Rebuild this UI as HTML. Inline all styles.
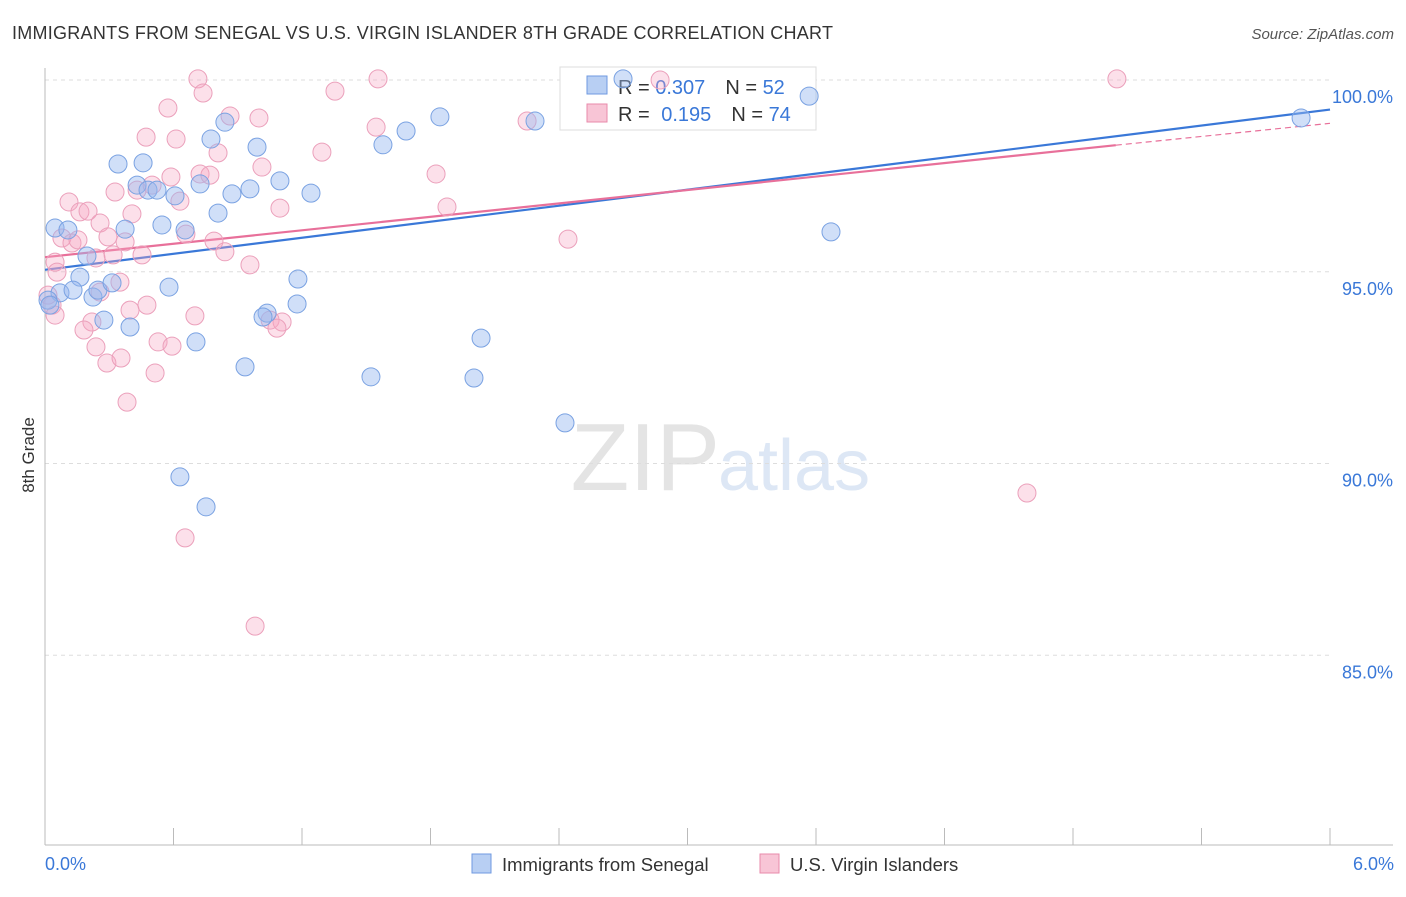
<!DOCTYPE html>
<html><head><meta charset="utf-8"><style>
body{margin:0;background:#fff;font-family:"Liberation Sans",sans-serif}
svg text{font-family:"Liberation Sans",sans-serif}
</style></head><body>
<svg id="chart" width="1406" height="892" xmlns="http://www.w3.org/2000/svg">
<text x="12" y="39" font-size="18" fill="#333" textLength="821">IMMIGRANTS FROM SENEGAL VS U.S. VIRGIN ISLANDER 8TH GRADE CORRELATION CHART</text>
<text x="1394" y="39" font-size="15" fill="#555" font-style="italic" text-anchor="end">Source: ZipAtlas.com</text>
<text x="720" y="490" font-size="96" fill="#e4e4e4" font-family="Liberation Serif" text-anchor="end">ZIP</text>
<text x="718" y="490" font-size="72" fill="#dde7f5">atlas</text>
<g id="grid"></g>
<g id="axes"></g>
<g>
<rect x="560" y="67" width="256" height="63" fill="#fff" stroke="#ddd"/>
<rect x="587" y="76" width="20" height="18" fill="#b8cff3" stroke="#6f9ae0"/>
<rect x="587" y="104" width="20" height="18" fill="#f8c5d6" stroke="#e88aab"/>
<text x="618" y="94" font-size="20" fill="#333">R = <tspan fill="#3a78d8">0.307</tspan><tspan dx="20">N = </tspan><tspan fill="#3a78d8">52</tspan></text>
<text x="618" y="121" font-size="20" fill="#333">R = <tspan dx="6" fill="#3a78d8">0.195</tspan><tspan dx="20">N = </tspan><tspan fill="#3a78d8">74</tspan></text>
</g>
<g id="lines"></g>
<g id="points"></g>
<text transform="translate(34,455) rotate(-90)" font-size="17" fill="#333" text-anchor="middle">8th Grade</text>
<text x="45" y="870" font-size="18" fill="#3a78d8">0.0%</text>
<text x="1394" y="870" font-size="18" fill="#3a78d8" text-anchor="end">6.0%</text>
<g><rect x="472" y="854" width="19" height="19" fill="#b8cff3" stroke="#6f9ae0"/><text x="502" y="871" font-size="18.5" fill="#333">Immigrants from Senegal</text></g>
<g><rect x="760" y="854" width="19" height="19" fill="#f8c5d6" stroke="#e88aab"/><text x="790" y="871" font-size="18.5" fill="#333">U.S. Virgin Islanders</text></g>
</svg>
<script>
const yTicks=[100,95,90,85];
const yTickLabels=["100.0%","95.0%","90.0%","85.0%"];
const xTicks=[0,0.6,1.2,1.8,2.4,3.0,3.6,4.2,4.8,5.4,6.0];
const blueX=[0.047,0.107,0.196,0.163,0.070,0.131,0.224,0.247,0.313,0.275,0.397,0.341,0.458,0.430,0.481,0.523,0.374,0.546,0.607,0.654,0.724,0.775,0.840,0.808,0.873,0.957,0.990,1.097,1.242,1.181,1.177,1.037,1.018,0.705,0.579,0.934,0.630,0.752,1.578,1.686,1.844,2.288,2.036,1.522,2.003,2.428,2.699,3.568,3.670,5.865,0.014,0.023];
const blueY=[96.14,96.09,95.41,94.86,94.45,94.52,94.34,94.52,94.71,93.74,93.56,97.81,97.84,97.26,97.13,97.13,96.11,96.22,96.98,96.09,97.29,98.46,98.90,96.53,97.03,97.16,98.25,97.37,97.05,94.81,94.16,93.92,93.82,93.17,94.60,92.52,89.65,88.87,98.31,98.67,99.04,98.93,93.27,92.26,92.23,91.06,100.03,99.58,96.04,99.01,94.26,94.13];
const pinkX=[0.714,1.555,5.005,1.354,0.738,0.574,0.999,0.864,0.472,0.612,0.808,1.293,1.013,1.826,0.588,0.724,0.770,0.327,0.430,0.500,0.630,1.097,0.112,0.163,0.201,0.406,0.257,1.877,2.251,1.546,2.442,0.658,0.789,0.294,0.374,0.079,0.126,0.154,0.047,0.453,0.840,0.957,0.318,0.238,0.056,0.350,0.257,0.476,0.397,0.700,0.219,0.182,1.051,1.107,1.083,0.238,0.528,0.593,0.289,0.355,0.514,0.383,0.654,0.981,4.585,0.033,0.047,0.014,2.872];
const pinkY=[100.03,100.03,100.03,99.71,99.66,99.27,99.01,99.06,98.51,98.46,98.10,98.12,97.73,97.55,97.47,97.55,97.52,97.08,97.13,97.26,96.84,96.66,96.82,96.56,96.58,96.51,96.27,96.69,98.93,98.77,95.85,95.98,95.80,95.91,95.78,95.88,95.75,95.83,95.25,95.44,95.52,95.18,95.44,95.36,94.99,94.73,94.47,94.13,94.00,93.85,93.69,93.48,93.74,93.69,93.53,93.04,93.17,93.06,92.62,92.75,92.36,91.60,88.06,85.76,89.23,94.13,93.87,94.39,100.00];
const blueTrend=[95.05,99.23];
const pinkTrend=[95.38,98.30,98.87];
const pinkSolidEnd=5.0;
const NS="http://www.w3.org/2000/svg";
const xs=v=>45+v/6*1285;
const ys=v=>80+(100-v)*38.35;
function mk(t,a,p){const e=document.createElementNS(NS,t);for(const k in a)e.setAttribute(k,a[k]);p.appendChild(e);return e;}
const grid=document.getElementById('grid'),axes=document.getElementById('axes'),lines=document.getElementById('lines'),pts=document.getElementById('points');
yTicks.forEach((t,i)=>{
 const l=mk('line',{x1:45,x2:1330,y1:ys(t),y2:ys(t),stroke:'#ddd','stroke-dasharray':'4,4'},grid);
 
 
 const tx=mk('text',{x:1393,y:ys(t)+23,'font-size':18,fill:'#3a78d8','text-anchor':'end'},axes);
 tx.textContent=yTickLabels[i];
 
 
});
const ya=mk('line',{x1:45,x2:45,y1:68,y2:845,stroke:'#bbb'},axes);


const xa=mk('line',{x1:45,x2:1393,y1:845,y2:845,stroke:'#bbb'},axes);


xTicks.forEach(t=>{
 const l=mk('line',{x1:xs(t),x2:xs(t),y1:828,y2:845,stroke:'#bbb'},axes);
 
 
});
function dot(x,y,fill,stroke,name){
 const c=mk('circle',{cx:xs(x),cy:ys(y),r:9,fill:fill,stroke:stroke,'stroke-width':1},pts);
 
 
}
pinkX.forEach((x,i)=>dot(x,pinkY[i],'rgba(245,165,195,0.35)','#eba0bb','pink-point'));
blueX.forEach((x,i)=>dot(x,blueY[i],'rgba(150,185,240,0.45)','#7aa2e2','blue-point'));
const bl=mk('line',{x1:xs(0),y1:ys(blueTrend[0]),x2:xs(6),y2:ys(blueTrend[1]),stroke:'#3a78d8','stroke-width':2.2},lines);


const pl=mk('line',{x1:xs(0),y1:ys(pinkTrend[0]),x2:xs(pinkSolidEnd),y2:ys(pinkTrend[1]),stroke:'#e8709a','stroke-width':2.2},lines);


const pd=mk('line',{x1:xs(pinkSolidEnd),y1:ys(pinkTrend[1]),x2:xs(6),y2:ys(pinkTrend[2]),stroke:'#e8709a','stroke-width':1.2,'stroke-dasharray':'6,4'},lines);


</script>
</body></html>
